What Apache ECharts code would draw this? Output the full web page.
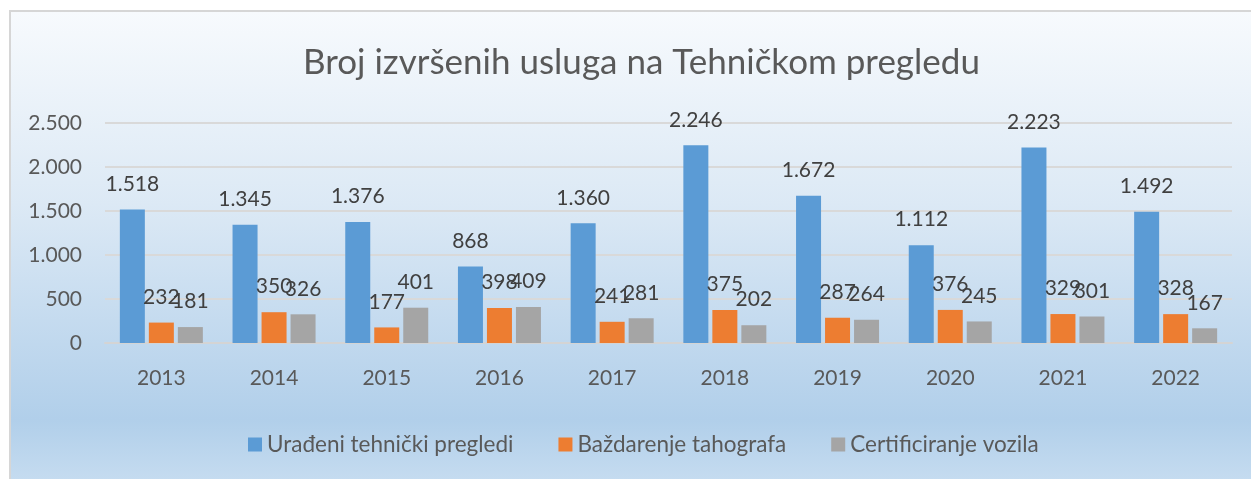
<!DOCTYPE html>
<html>
<head>
    <meta charset="utf-8">
    <title>Broj izvršenih usluga</title>
    <script src="https://cdn.jsdelivr.net/npm/echarts@6/dist/echarts.min.js"></script>
    <style>
        html, body { margin: 0; padding: 0; background: #fff; }
        #frame {
            position: absolute; left: 9px; top: 10px; width: 1250px; height: 480px;
            border: 2px solid #d6d6d6;
            background: linear-gradient(to bottom, #f7fafd 0%, #dce9f5 40%, #b1cfea 85%, #c9def1 100%);
        }
        #main { position: absolute; left: 0; top: 0; width: 1251px; height: 479px; }
    </style>
</head>
<body>
    <div id="frame"></div>
    <div id="main"></div>
    <script type="text/javascript">
        var years = ['2013', '2014', '2015', '2016', '2017', '2018', '2019', '2020', '2021', '2022'];
        var tehnickiPregledi = [1518, 1345, 1376, 868, 1360, 2246, 1672, 1112, 2223, 1492];
        var bazdarenje = [232, 350, 177, 398, 241, 375, 287, 376, 329, 328];
        var certificiranje = [181, 326, 401, 409, 281, 202, 264, 245, 301, 167];
        var seriesNames = ['Urađeni tehnički pregledi', 'Baždarenje tahografa', 'Certificiranje vozila'];
        var colors = ['#5b9bd5', '#ed7d31', '#a5a5a5'];

        var fontName = 'Lato, "Open Sans", sans-serif';

        // broj s tačkom kao separatorom hiljada
        function fmt(v) {
            return String(v).replace(/\B(?=(\d{3})+(?!\d))/g, '.');
        }

        function makeSeries(name, data, color) {
            return {
                name: name,
                type: 'bar',
                barWidth: 25,
                barGap: '16%',
                data: data,
                itemStyle: { color: color },
                label: {
                    show: true,
                    position: 'top',
                    distance: 15,
                    fontFamily: fontName,
                    fontSize: 21,
                    color: '#404040',
                    formatter: function (p) { return fmt(p.value); }
                }
            };
        }

        var myChart = echarts.init(document.getElementById('main'));
        myChart.setOption({
            animation: false,
            title: {
                text: 'Broj izvršenih usluga na Tehničkom pregledu',
                left: 298,
                top: 40,
                textStyle: { fontFamily: fontName, fontSize: 35, fontWeight: 'normal', color: '#595959' }
            },
            legend: {
                data: seriesNames,
                left: 243,
                top: 428,
                itemWidth: 14,
                itemHeight: 14,
                itemGap: 45,
                icon: 'rect',
                textStyle: { fontFamily: fontName, fontSize: 22.5, color: '#595959' }
            },
            color: colors,
            grid: { left: 105, right: 19, top: 123, bottom: 136 },
            xAxis: {
                type: 'category',
                data: years,
                axisLine: { lineStyle: { color: '#d4d4d4', width: 2 } },
                axisTick: { show: false },
                axisLabel: { margin: 25, fontFamily: fontName, fontSize: 21, color: '#595959' }
            },
            yAxis: {
                type: 'value',
                min: 0,
                max: 2500,
                interval: 500,
                axisLine: { show: false },
                axisTick: { show: false },
                splitLine: { lineStyle: { color: '#d9d9d9', width: 2 } },
                axisLabel: {
                    margin: 23, fontFamily: fontName, fontSize: 21, color: '#595959',
                    formatter: function (v) { return fmt(v); }
                }
            },
            series: [
                makeSeries(seriesNames[0], tehnickiPregledi, colors[0]),
                makeSeries(seriesNames[1], bazdarenje, colors[1]),
                makeSeries(seriesNames[2], certificiranje, colors[2])
            ]
        });
    </script>
</body>
</html>
